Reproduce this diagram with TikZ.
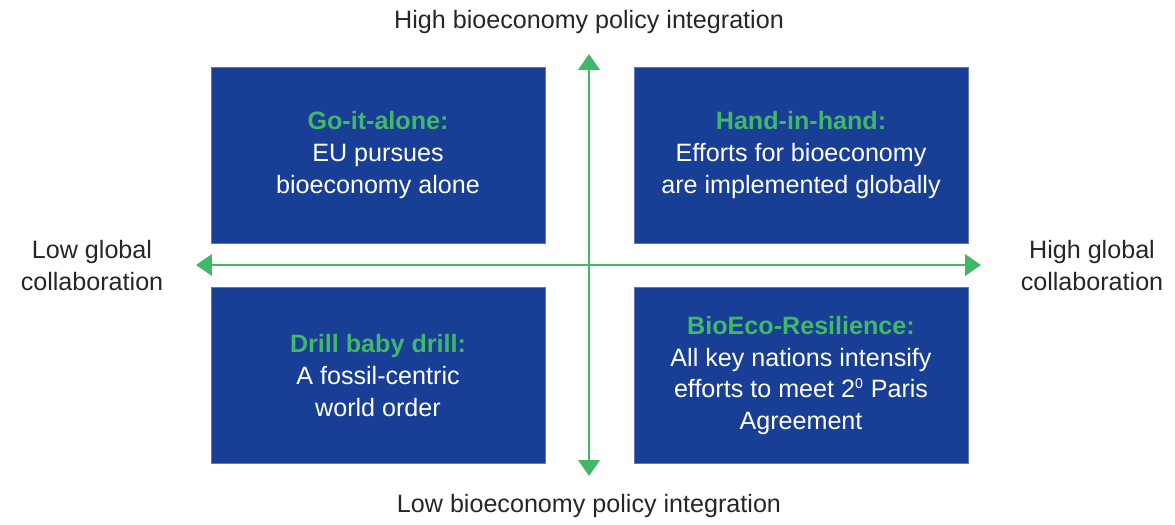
\documentclass[tikz,border=0pt]{standalone}
\usepackage{fontspec}
\setmainfont{Liberation Sans}
\usetikzlibrary{arrows.meta}

\definecolor{bionavy}{RGB}{24,62,150}
\definecolor{biogreen}{RGB}{64,184,104}

\tikzset{
    quadrant/.style={fill=bionavy, draw=bionavy!70!white, line width=0.4pt, minimum width=6.68cm, minimum height=3.52cm, text=white, align=center, font=\fontsize{14.3}{18.2}\selectfont},
    axislabel/.style={align=center, text=black!85, font=\fontsize{14.3}{18.2}\selectfont},
    axis/.style={biogreen, line width=1.6pt, {Triangle[width=12pt,length=9pt]}-{Triangle[width=12pt,length=9pt]}}
}
\newcommand{\scenario}[1]{\textcolor{biogreen}{\bfseries #1}}

\begin{document}
\begin{tikzpicture}[x=0.02cm, y=-0.02cm]
    \useasboundingbox (0,0) rectangle (1175,524);

    \node[quadrant] (goalone) at (378,155) {\scenario{Go-it-alone:}\\EU pursues\\bioeconomy alone};
    \node[quadrant] (handinhand) at (801,155) {\scenario{Hand-in-hand:}\\Efforts for bioeconomy\\are implemented globally};
    \node[quadrant] (drill) at (378,375.5) {\scenario{Drill baby drill:}\\A fossil-centric\\world order};
    \node[quadrant] (resilience) at (801,375.5) {\scenario{BioEco-Resilience:}\\All key nations intensify\\efforts to meet 2\textsuperscript{\footnotesize 0} Paris\\Agreement};

    \coordinate (ytop) at (589,54);
    \coordinate (ybot) at (589,476);
    \coordinate (xleft) at (196,265);
    \coordinate (xright) at (981,265);
    \draw[axis] (ybot) -- (ytop);
    \draw[axis] (xleft) -- (xright);

    \node[axislabel] (highpolicy) at (589,22) {High bioeconomy policy integration};
    \node[axislabel] (lowpolicy) at (589,506) {Low bioeconomy policy integration};
    \node[axislabel] (lowcollab) at (92,266) {Low global\\collaboration};
    \node[axislabel] (highcollab) at (1092,266) {High global\\collaboration};
\end{tikzpicture}
\end{document}
